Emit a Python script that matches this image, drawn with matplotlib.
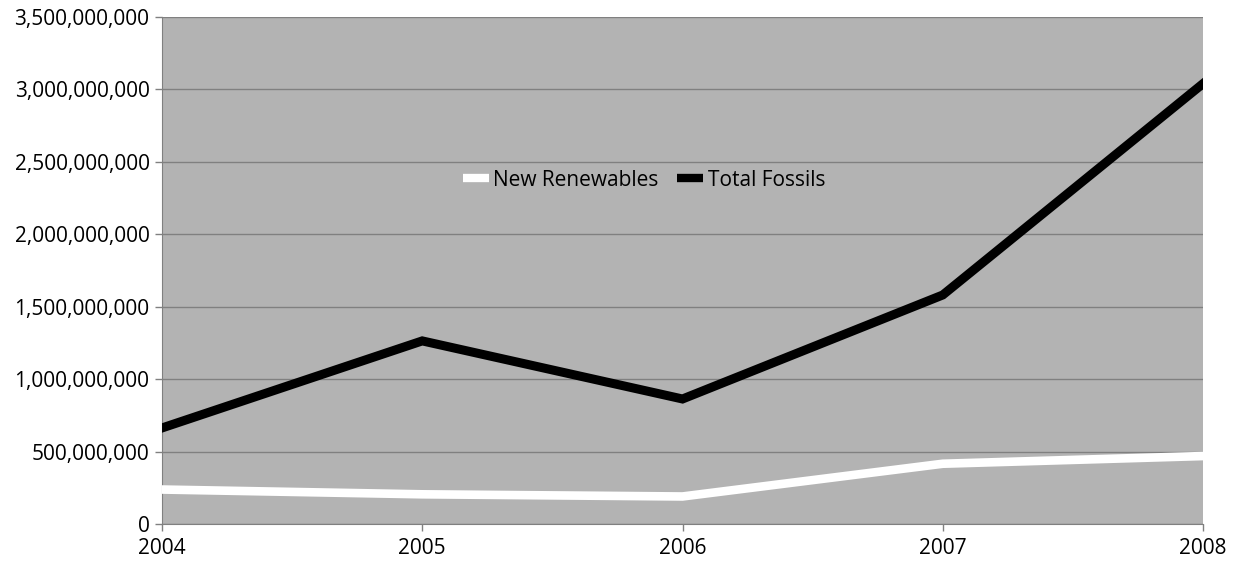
import matplotlib
matplotlib.use("Agg")
import matplotlib.pyplot as plt
from matplotlib.ticker import FuncFormatter, MultipleLocator

years = [2004, 2005, 2006, 2007, 2008]
new_renewables = [238e6, 205e6, 190e6, 416e6, 469e6]
total_fossils = [663e6, 1264e6, 863e6, 1581e6, 3040e6]

plt.rcParams['font.family'] = ['Open Sans', 'DejaVu Sans']

fig = plt.figure(figsize=(12.33, 5.63), dpi=100)
ax = fig.add_axes([162 / 1233, 1 - 524 / 563, (1203 - 162) / 1233, (524 - 17) / 563])
ax.set_facecolor('#b3b3b3')

ax.plot(years, new_renewables, color='white', lw=6.2, label='New Renewables',
        solid_joinstyle='miter', zorder=3)
ax.plot(years, total_fossils, color='black', lw=6.5, label='Total Fossils',
        solid_joinstyle='miter', zorder=3)

ax.set_xlim(2004, 2008)
ax.set_ylim(0, 3.5e9)
ax.set_xticks(years)
ax.yaxis.set_major_locator(MultipleLocator(5e8))
ax.yaxis.set_major_formatter(FuncFormatter(lambda v, p: f"{int(round(v)):,}"))
ax.grid(axis='y', color='#808080', lw=1)
ax.set_axisbelow(True)

for side in ('top', 'right'):
    ax.spines[side].set_visible(False)
for side in ('left', 'bottom'):
    ax.spines[side].set_color('#808080')
ax.tick_params(axis='both', colors='#808080', labelcolor='black', labelsize=15,
               length=5, width=1)
ax.tick_params(axis='y', pad=4)
ax.tick_params(axis='x', pad=5)

leg = ax.legend(loc='center', bbox_to_anchor=(0.463, 0.678), ncol=2, frameon=False,
                fontsize=15, handlelength=1.25, handletextpad=0.2, columnspacing=0.9)
for h in leg.legend_handles:
    h.set_linewidth(6)
    h.set_solid_capstyle('butt')

fig.savefig('out.png', dpi=100)
